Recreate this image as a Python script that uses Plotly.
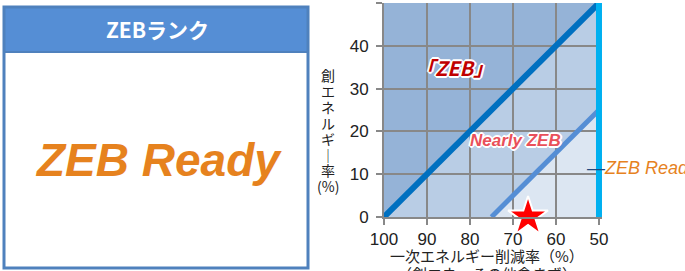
import plotly.graph_objects as go

# ---------------- data ----------------
x_ticks = [100, 90, 80, 70, 60, 50]          # 一次エネルギー削減率 (%)
y_ticks = [0, 10, 20, 30, 40, 50]            # 創エネルギー率 (%)
zeb_x = [100, 50]                            # 『ZEB』 boundary
zeb_y = [0, 50]
nearly_x = [75, 50]                          # Nearly ZEB boundary
nearly_y = [0, 25]
ready_x = [50, 50]                           # ZEB Ready boundary
ready_y = [0, 50]
current_x = [66.5]                           # this building
current_y = [0]
region_labels = ["「ZEB」", "Nearly ZEB", "ZEB Ready"]
rank_title = "ZEBランク"
rank_value = "ZEB Ready"
y_title_chars = ["創", "エ", "ネ", "ル", "ギ", "｜", "率", "(%)"]
x_title = "一次エネルギー削減率（%）"
x_title2 = "（創エネ・その他含まず）"

W, H = 685, 271
JP = "Noto Sans CJK JP"


def px(v):
    return v / W


def py(v):
    return 1 - v / H


fig = go.Figure()

ymax = y_ticks[-1]


def path(pts):
    return "M " + " L ".join(f"{a},{b}" for a, b in pts) + " Z"


shapes = [
    # region fills (drawn under gridlines)
    dict(type="path", xref="x", yref="y", layer="below", line_width=0,
         fillcolor="#95B3D7",
         path=path([(zeb_x[0], zeb_y[0]), (zeb_x[1], zeb_y[1]), (zeb_x[0], ymax)])),
    dict(type="path", xref="x", yref="y", layer="below", line_width=0,
         fillcolor="#B9CDE5",
         path=path([(zeb_x[0], zeb_y[0]), (zeb_x[1], zeb_y[1]),
                    (nearly_x[1], nearly_y[1]), (nearly_x[0], nearly_y[0])])),
    dict(type="path", xref="x", yref="y", layer="below", line_width=0,
         fillcolor="#DCE6F2",
         path=path([(nearly_x[0], nearly_y[0]), (nearly_x[1], nearly_y[1]),
                    (ready_x[0], ready_y[0])])),
    # left rank panel
    dict(type="rect", xref="paper", yref="paper", x0=px(4), x1=px(308),
         y0=py(52), y1=py(7), fillcolor="#558ED5", line=dict(color="#4F81BD", width=2)),
    dict(type="rect", xref="paper", yref="paper", x0=px(4), x1=px(308),
         y0=py(268), y1=py(7), line=dict(color="#4F81BD", width=3)),
]

# boundary lines
fig.add_trace(go.Scatter(x=zeb_x, y=zeb_y, mode="lines",
                         line=dict(color="#0070C0", width=6), hoverinfo="skip"))
fig.add_trace(go.Scatter(x=nearly_x, y=nearly_y, mode="lines",
                         line=dict(color="#558ED5", width=5), hoverinfo="skip"))
fig.add_trace(go.Scatter(x=ready_x, y=ready_y, mode="lines",
                         line=dict(color="#00B0F0", width=6), hoverinfo="skip"))
# current building
fig.add_trace(go.Scatter(x=current_x, y=current_y, mode="markers", cliponaxis=False,
                         marker=dict(symbol="star", size=30, color="#FF0000",
                                     line=dict(color="white", width=2)),
                         hoverinfo="skip"))

outline = "1px 1px 0 #fff, -1px -1px 0 #fff, 1px -1px 0 #fff, -1px 1px 0 #fff, 0 2px 0 #fff, 2px 0 0 #fff, 0 -2px 0 #fff, -2px 0 0 #fff"


def ann(text, x, y, font, xanchor="center"):
    return dict(text=text, x=px(x), y=py(y), xref="paper", yref="paper",
                xanchor=xanchor, yanchor="middle", showarrow=False, font=font)


annotations = [
    ann(f"<b>{rank_title}</b>", 157, 29, dict(family=JP, size=21, color="white")),
    ann(f"<b><i>{rank_value}</i></b>", 158, 160,
        dict(family="Liberation Sans", size=46, color="#E6821E")),
    ann(f"<b><i>{region_labels[0]}</i></b>", 454, 68,
        dict(family=JP, size=20, color="#C00000", shadow=outline)),
    ann(f"<b><i>{region_labels[1]}</i></b>", 515, 141,
        dict(family="Liberation Sans", size=17, color="#E9505A", shadow=outline)),
    ann(f"<span style='color:#1F497D'>—</span><i>{region_labels[2]}</i>", 585, 168,
        dict(family="Liberation Sans", size=18, color="#E6821E"), xanchor="left"),
    ann(x_title, 487, 255, dict(family=JP, size=15, color="#222")),
    ann(x_title2, 487, 273, dict(family=JP, size=15, color="#222")),
]
for i, ch in enumerate(y_title_chars):
    annotations.append(ann(ch, 328, 75 + i * 15.9, dict(family=JP, size=14, color="#222")))

grid = dict(showgrid=True, gridcolor="#888888", gridwidth=2, zeroline=False,
            showline=True, linecolor="#888888", linewidth=2, automargin=False,
            ticks="outside", ticklen=6, tickcolor="#888888", tickwidth=2,
            tickfont=dict(family="Liberation Sans", size=17, color="#222"))

fig.update_layout(
    template="none",
    width=W, height=H, autosize=False,
    margin=dict(l=0, r=0, t=0, b=0, pad=0, autoexpand=False),
    paper_bgcolor="white", plot_bgcolor="white", showlegend=False,
    shapes=shapes, annotations=annotations,
    xaxis=dict(domain=[px(384), px(602)], range=[100, 49.3], tickvals=x_ticks, **grid),
    yaxis=dict(domain=[py(217), py(3)], range=[0, 50], tickvals=y_ticks,
               ticklabelstandoff=4, **grid),
)

post = (
    "var h=document.documentElement,b=document.body;"
    "h.style.margin=b.style.margin='0';h.style.padding=b.style.padding='0';"
    "h.style.overflow=b.style.overflow='hidden';"
)
fig.write_html("out.html", post_script=post,
               config={"displayModeBar": False, "responsive": False})
